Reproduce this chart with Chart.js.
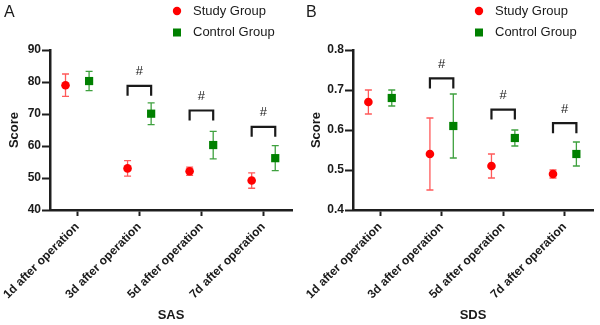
<!DOCTYPE html>
<html><head><meta charset="utf-8">
<script src="https://cdn.jsdelivr.net/npm/chart.js@4.4.1/dist/chart.umd.min.js"></script>
<style>
html,body{margin:0;padding:0;background:#fff;width:600px;height:325px;overflow:hidden}
#wa{position:absolute;left:0;top:0;width:302px;height:325px}
#wb{position:absolute;left:302px;top:0;width:298px;height:325px}
canvas{display:block}
</style></head><body>
<div id="wa"><canvas id="ca" width="302" height="325"></canvas></div>
<div id="wb"><canvas id="cb" width="298" height="325"></canvas></div>
<script>
// ---------- data ----------
const categories = ['1d after operation', '3d after operation', '5d after operation', '7d after operation'];
const seriesNames = ['Study Group', 'Control Group'];

// SAS panel (A)
const sasStudyMean   = [79.0, 53.0, 52.1, 49.2];
const sasStudyErr    = [3.5, 2.4, 1.3, 2.4];
const sasControlMean = [80.3, 70.1, 60.3, 56.2];
const sasControlErr  = [3.0, 3.4, 4.3, 3.9];
const sasBracketTop  = [null, 78.8, 71.1, 66.0];
const sasTicks       = [40, 50, 60, 70, 80, 90];

// SDS panel (B)
const sdsStudyMean   = [0.67, 0.54, 0.51, 0.49];
const sdsStudyErr    = [0.03, 0.09, 0.03, 0.01];
const sdsControlMean = [0.68, 0.61, 0.58, 0.54];
const sdsControlErr  = [0.02, 0.08, 0.02, 0.03];
const sdsBracketTop  = [null, 0.729, 0.651, 0.617];
const sdsTicks       = [0.4, 0.5, 0.6, 0.7, 0.8];
const sdsTickLabels  = ['0.4', '0.5', '0.6', '0.7', '0.8'];

// ---------- styling ----------
const FONT = '"Liberation Sans", Arial, Helvetica, sans-serif';
const AXIS = '#1e1e1e';
const RED = '#ff0000', RED_ERR = '#ff5a5a';
const GREEN = '#008000', GREEN_ERR = '#3fa13f';
const DODGE = 0.19;

const errorBars = {
  id: 'errorBars',
  beforeDatasetsDraw(chart) {
    const {ctx, scales: {x, y}} = chart;
    chart.data.datasets.forEach(ds => {
      if (!ds.errors) return;
      ctx.save();
      ctx.strokeStyle = ds.errorColor;
      ctx.lineWidth = 1.3;
      ds.data.forEach((p, i) => {
        const e = ds.errors[i];
        const px = x.getPixelForValue(p.x);
        const y1 = y.getPixelForValue(p.y + e), y2 = y.getPixelForValue(p.y - e);
        ctx.beginPath();
        ctx.moveTo(px, y1); ctx.lineTo(px, y2);
        ctx.moveTo(px - 3.5, y1); ctx.lineTo(px + 3.5, y1);
        ctx.moveTo(px - 3.5, y2); ctx.lineTo(px + 3.5, y2);
        ctx.stroke();
      });
      ctx.restore();
    });
  }
};

const brackets = {
  id: 'brackets',
  afterDatasetsDraw(chart, args, opts) {
    const {ctx, scales: {x, y}} = chart;
    ctx.save();
    ctx.strokeStyle = '#1a1a1a';
    ctx.lineWidth = 2.2;
    ctx.fillStyle = '#1a1a1a';
    ctx.font = '13px ' + FONT;
    ctx.textAlign = 'center';
    ctx.textBaseline = 'middle';
    opts.tops.forEach((t, i) => {
      if (t == null) return;
      const xl = x.getPixelForValue(i - DODGE), xr = x.getPixelForValue(i + DODGE);
      const yt = y.getPixelForValue(t);
      ctx.beginPath();
      ctx.moveTo(xl, yt + 10); ctx.lineTo(xl, yt); ctx.lineTo(xr, yt); ctx.lineTo(xr, yt + 10);
      ctx.stroke();
      ctx.fillText('#', (xl + xr) / 2, yt - 14);
    });
    ctx.restore();
  }
};

const legendDraw = {
  id: 'legendDraw',
  afterDraw(chart, args, opts) {
    const ctx = chart.ctx;
    ctx.save();
    chart.data.datasets.forEach((ds, i) => {
      const cy = opts.y + i * opts.gap;
      ctx.fillStyle = ds.backgroundColor;
      if (ds.pointStyle === 'circle') {
        ctx.beginPath(); ctx.arc(opts.x, cy, 4.2, 0, Math.PI * 2); ctx.fill();
      } else {
        ctx.fillRect(opts.x - 4, cy - 4, 8, 8);
      }
      ctx.fillStyle = '#1a1a1a';
      ctx.font = '13px ' + FONT;
      ctx.textBaseline = 'middle';
      ctx.textAlign = 'left';
      ctx.fillText(ds.label, opts.textX, cy);
    });
    // panel letter
    ctx.font = '16px ' + FONT;
    ctx.textBaseline = 'middle';
    ctx.fillText(opts.letter, 4, 13);
    ctx.restore();
  }
};

function makeChart(id, cfg) {
  const datasets = [
    {
      label: seriesNames[0],
      data: cfg.study.map((v, i) => ({x: i - DODGE, y: v})),
      errors: cfg.studyErr, errorColor: RED_ERR,
      backgroundColor: RED, borderColor: RED,
      pointStyle: 'circle', pointRadius: 4.3, pointHoverRadius: 4.3, borderWidth: 0
    },
    {
      label: seriesNames[1],
      data: cfg.control.map((v, i) => ({x: i + DODGE, y: v})),
      errors: cfg.controlErr, errorColor: GREEN_ERR,
      backgroundColor: GREEN, borderColor: GREEN,
      pointStyle: 'rect', pointRadius: 5.8, pointHoverRadius: 5.8, borderWidth: 0
    }
  ];
  return new Chart(document.getElementById(id), {
    type: 'scatter',
    data: {datasets},
    plugins: [errorBars, brackets, legendDraw],
    options: {
      responsive: false,
      animation: false,
      events: [],
      layout: {padding: {top: 50, right: cfg.rightPad, bottom: 0, left: 0}},
      plugins: {
        legend: {display: false},
        tooltip: {enabled: false},
        brackets: {tops: cfg.bracket},
        legendDraw: {x: 177, y: 11, gap: 21.5, textX: 193, letter: cfg.letter}
      },
      scales: {
        x: {
          type: 'linear',
          min: -0.44, max: 3.46,
          afterBuildTicks: s => { s.ticks = categories.map((c, i) => ({value: i})); },
          afterFit: s => { s.height = 115; s.paddingLeft = 0; s.paddingRight = 0; },
          border: {display: true, color: AXIS, width: 2.5},
          grid: {drawOnChartArea: false, drawTicks: true, tickLength: 6, tickWidth: 2, tickColor: AXIS},
          ticks: {
            autoSkip: false, minRotation: 45, maxRotation: 45, padding: 4,
            color: '#1a1a1a', font: {family: FONT, size: 12, weight: 'bold'},
            callback: v => categories[v]
          },
          title: {display: true, text: cfg.xTitle, color: '#1a1a1a',
                  font: {family: FONT, size: 13, weight: 'bold'}, padding: {top: 0, bottom: 2}}
        },
        y: {
          min: cfg.ticks[0], max: cfg.ticks[cfg.ticks.length - 1],
          afterBuildTicks: s => { s.ticks = cfg.ticks.map(v => ({value: v})); },
          afterFit: s => { s.width = cfg.yWidth; s.paddingTop = 0; s.paddingBottom = 0; },
          border: {display: true, color: AXIS, width: 2.5},
          grid: {drawOnChartArea: false, drawTicks: true, tickLength: 8, tickWidth: 2, tickColor: AXIS},
          ticks: {
            padding: 1, color: '#1a1a1a', font: {family: FONT, size: 12, weight: 'bold'},
            callback: v => cfg.tickLabels[cfg.ticks.indexOf(v)]
          },
          title: {display: true, text: 'Score', color: '#1a1a1a',
                  font: {family: FONT, size: 13, weight: 'bold'}, padding: {top: 7, bottom: 0}}
        }
      }
    }
  });
}

makeChart('ca', {
  study: sasStudyMean, studyErr: sasStudyErr,
  control: sasControlMean, controlErr: sasControlErr,
  bracket: sasBracketTop, ticks: sasTicks, tickLabels: sasTicks.map(String),
  xTitle: 'SAS', letter: 'A', rightPad: 10, yWidth: 50
});
makeChart('cb', {
  study: sdsStudyMean, studyErr: sdsStudyErr,
  control: sdsControlMean, controlErr: sdsControlErr,
  bracket: sdsBracketTop, ticks: sdsTicks, tickLabels: sdsTickLabels,
  xTitle: 'SDS', letter: 'B', rightPad: 7, yWidth: 51
});
</script>
</body></html>
